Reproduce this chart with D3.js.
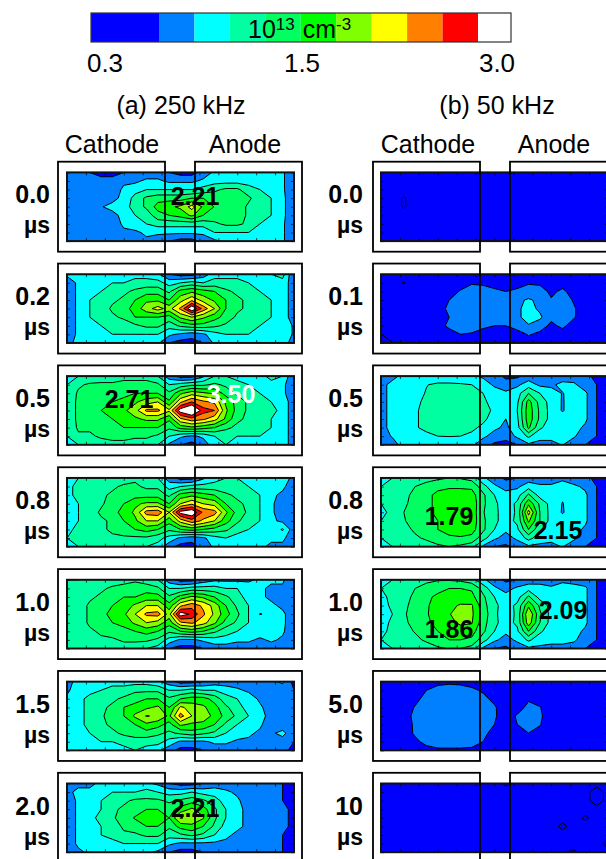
<!DOCTYPE html>
<html>
  <head>
    <meta http-equiv="Content-Type" content="text/html;charset=utf-8"/>
    <script src="https://d3js.org/d3.v7.min.js"></script>
    <style type="text/css">
    html, body { margin: 0; padding: 0; background: #fff; overflow: hidden; }
    text { font-family: "Liberation Sans", Arial, sans-serif; fill: #000; }
    .band { stroke: #000; stroke-width: 1px; stroke-linejoin: round; }
    .tick line { stroke: #000; stroke-width: 0.7px; }
    </style>
  </head>
  <body>
    <script type="text/javascript">
    // density in 10^12 cm^-3, 21 columns x 9 rows
    var a00 = [
      [6,6,5,4,4,5,6,6,6,5,4,4,6,8,8,8,8,8,8,8,5],
      [6,6,6,6,6,7,7,8,8,7,7,7,8,9,9,9,9,9,9,8,5],
      [6,6,6,6,6,8,9,10,10,10,10,10,11,12,13,13,11,10,9,8,5],
      [6,6,6,6,7,8,11,13,14,14,14,15,15,14,14,14,13,11,10,8,6],
      [6,6,6,7.4,8,9,11,13,16,17,18,21,17,14.9,15,14,12,11,10,8,6],
      [6,6,6,6,7,8,10,11,14,15,16,18,15,14,14,14,12,11,10,8,6],
      [6,6,6,6,6,8,9,10,11,11,11,11,11,12,13,13,12,10,9,8,5],
      [6,6,6,6,6,7,7,8,8,8,8,8,8,10,10,10,10,9,9,8,5],
      [6,6,6,6,6,6,7,7,6,5,4,4,6,7,8,8,8,8,8,8,5]
    ];
    var a02 = [
      [8,8,8,9,9,9,9,9,8,5,4,4,6,9,9,9,9,9,10,11,5],
      [6,8,9,9,10,10,11,11,11,9,10,11,10,11,11,11,10,10,9,9,6],
      [6,8,10,10,11,12,13,14,14,12,16,17,16,15,13,12,11,10,9,9,6],
      [6,8,10,11,12,13,15,17,17,15,19,22,19,17,15,13,12,11,10,9,6],
      [6,8,10,11,13,14,16,19,21,19,23,30,24,20,15,13,12,11,10,9,6],
      [6,8,10,11,12,13,15,15,15,14,18,20,18,16,14,12,11,11,10,9,6],
      [6,8,9,10,11,11,12,13,13,11,13,14,14,13,12,11,11,10,10,10,7],
      [6,8,9,9,10,10,10,10,10,8,7,6,7,9,10,10,10,10,10,10,7],
      [7,8,9,9,9,9,9,9,8,5,4,4,5,8,9,9,9,9,9,9,6]
    ];
    var a05 = [
      [10,10,10,11,11,12,12,12,10,6,4,4,7,10,10,9,9,9,11,10,5],
      [10,12,13,13,13,13,13,13,13,10,11,12,12,13,12,11,10,10,9,8,6],
      [10,13,13,13,14,14,15,15,15,13,17,19,18,17,14,12,11,10,10,8,6],
      [11,13,13,14,15,16,17,19,20,15.5,22,25,23,22,17,14,12,11,10,9,6],
      [11,13,14,15,16,17,19,23,23,20.5,29,32,26,25,18,14,12,11,11,9,6],
      [11,13,14,14,15,16,17,18,18,15.5,22,24,23,21,17,13,12,11,10,9,6],
      [10,13,13,14,14,15,15,15,15,13,16,17,16,15,13,12,11,11,10,9,6],
      [10,12,12,13,13,13,13,13,12,10,8,7,8,10,11,10,10,10,10,9,6],
      [10,10,11,11,12,12,11,11,10,7,5,4,6,9,10,10,10,9,9,9,6]
    ];
    var a08 = [
      [9,10,11,11,11,11,12,11,10,6,4,4,7,9,10,10,9,9,9,10,6],
      [9,11,12,12,12,13,13,12,12,9,10,11,11,11,11,11,10,9,9,8,6],
      [9,11,12,12,13,14,14,14,14,12,16,17,16,15,13,12,11,10,8,7,5],
      [9,10,11,12,14,15,17,18,18,15,20,22,20,19,15,13,12,10,8,6,5],
      [9,10,11,13,14,16,18,23.5,24,20,28.5,30,24.5,23.5,18,14,12,10,8,6,5],
      [9,10,11,12,13,15,17,20,20,16,21,24,22,20,16,13,11,10,8,7,5],
      [9,11,12,12,13,14,15,16,15,13,15,16,15,14,13,11,10,9,8.5,10.3,6],
      [10,11,11,11,12,12,12,12,11,9,7,6,7,9,10,9,9,8,8,8,6],
      [10,10,10,11,11,11,11,10,9,6,4,4,6,8,9,9,8,8,7,7,5]
    ];
    var a10 = [
      [10,10,11,11,11,12,12,11,10,6,4,4,6,7,7,7,7,8,8,8,5],
      [11,11,12,12,13,13,14,14,13,10,10,11,11,11,10,10,9,8,7,7,5],
      [11,11,12,13,14,15,15,16,16,13,16,18,17,15,13,11,9,8,7,7,5],
      [11,11,13,14,15,16,18,20,20,16,22,24,22,19,15,12,10,8.5,8,7,5],
      [11,11,13,14,16,17,20,23,23.5,19,29,27,23,19.5,16,13,10,7.4,8,8,6],
      [11,11,13,14,15,16,18,20,19,16,22,23,21,18,14,12,10,9,8,8,6],
      [11,11,12,13,14,14,15,16,15,13,15,16,15,13,11,10,9,9,9,8,5],
      [11,11,12,12,12,13,13,13,12,9,7,7,8,9,9,8,8,7,8,7,5],
      [10,11,11,11,11,11,11,10,9,5,4,4,5,6,6,6,6,6,6,6,5]
    ];
    var a15 = [
      [7,8,8,9,9,9,9,9,8,6,4,4,5,6,6,6,6,6,7,8,4],
      [7,9,9,10,11,11,12,12,12,10,10,11,10,10,9,8,7,6,6,6,5],
      [8,9,11,11,12,13,14,15,15,13,15,16,16,14,11,10,9,7,6,6,5],
      [8,9,11,12,13,15,16,17,18,15,20.5,19,18,16,13,11,9,8,6,6,5],
      [8,9,11,12,14,15,18,20.2,19.5,17,23.5,20,18.5,17,14,12,10,8,7,6,5],
      [8,9,11,12,13,14,15,17,16,14,18,17,17,15,12,10,9,8,5.6,5.5,5],
      [8,9,10,11,12,13,14,14,13,12,13,14,13,12,10,9,8,7,7,8.5,5],
      [8,9,10,10,10,11,11,11,11,9,7,7,7,8,8,7,7,6,6,6,5],
      [8,8,9,9,9,9,10,9,8,6,4,4,5,6,6,6,6,6,6,6,4]
    ];
    var a20 = [
      [7,7,7,8,8,8,8,8,7,5,4,4,5,6,6,6,6,6,6,5,4],
      [7,8,8,9,10,10,10,11,10,9,9,10,9,9,8,7,6,6,6,5,4],
      [6,8,9,10,11,12,13,13,13,12,13,14,13,11,9,8,6,6,6,5,4],
      [6,8,9,10,12,13,14,15,15,14,16,18,16,13,10,8,7,6,6,6,4],
      [6,8,9,11,12,14,15.2,16,16,15,20.3,19,17.8,13,10,8,7,6,6,6,4],
      [6,8,9,10,11,13,14,15,15,13,16,17,15,12,9,8,7,6,6,6,4],
      [6,8,9,10,11,12,12,13,13,11,12,13,12,10,8,7,6,6,6,5,4],
      [6,8,8,9,9,10,10,10,10,8,7,7,7,7,7,6,6,6,6,5,4],
      [7,7,8,8,8,8,8,8,7,5,4,4,5,6,6,6,6,6,6,5,3]
    ];
    var b00 = [
      [3,3,3,3,3,3,3,3,3,3,3,3,3,3,3,3,3,3,3,3,3],
      [3,3,3,3,3,3,3,3,3,3,3,3,3,3,3,3,3,3,3,3,3],
      [3,3,3,3,3,3,3,3,3,3,3,3,3,3,3,3,3,3,3,3,3],
      [3,3,2.4,3,3,3,3,3,3,3,3,3,3,3,3,3,3,3,3,3,3],
      [3,3,2.4,3,3,3,3,3,3,3,3,3,3,3,3,3,3,3,3,3,3],
      [3,3,3,3,3,3,3,3,3,3,3,3,3,3,3,3,3,3,3,3,3],
      [3,3,3,3,3,3,3,3,3,3,3,3,3,3,3,3,3,3,3,3,3],
      [3,3,3,3,3,3,3,3,3,3,3,3,3,3,3,3,3,3,3,3,3],
      [3,3,3,3,3,3,3,3,3,3,3,3,3,3,3,3,3,3,3,3,3]
    ];
    var b01 = [
      [4,4,4,4,4,4,4,4,4,4,4,4,4,4,4,4,4,4,4,4,4],
      [4,4,2.3,4,4,4,4,4,4.8,4.6,4,4,4,4.8,4.6,4,4,4,4,4,4],
      [4,4,4,4,4,4,4,5.2,6,6,5.5,5,5.5,6,6,4.5,5.5,4,4,4,4],
      [4,4,4,4,4,4,5,6,6,6,6,6,7,7.8,7,5.2,6,4.8,4,4,4],
      [4,4,4,4,4,4,5.5,6,6,6,6,6,7,8.5,7,5.5,6,5.2,4,4,4],
      [4,4,4,4,4,4,5,6,6,6,6,6,7,8.5,8,5.5,6,5.2,4,4,4],
      [4,4,4,4,4,4,5.5,6,6,5.5,5,5,6,7.3,6,4.5,5.5,4,4,4,4],
      [2.4,4,4,4,4,4,4,5,4.8,4,4,4,4,5.2,4.5,4,4,4,4,4,4],
      [2,2.4,4,4,4,4,4,4,4,4,4,4,4,4,4,4,4,4,4,4,4]
    ];
    var b05 = [
      [7,7,8,8,8,8,8,8,8,7,6,4.5,4.5,6,6,6,6,6,6,4,4],
      [7,8,9,9,9.9,10.5,10.5,10.3,10,9,7,6,7,8.8,7,7,8.3,8,6,5,4],
      [7,8,9,9,10.2,11,11,11,11,10,9,8,9,12.5,10,8.5,7.4,8.5,8,5,4],
      [7,8,9,9.5,10.5,11,11,11,11,10.5,9,8,9.5,16,11.5,9,7.3,9,8,5,4],
      [7,8,9,9.8,10.5,11,11,11,11,11,9.5,8,10,16.5,12,9,7.3,9,8,5,4],
      [7,8,9,9.8,10.5,11,11,11,11,10.5,9,7.5,9.5,16.5,12,9,8.5,9,8,5,4],
      [7,8,9,9.8,10.5,11,11,11,10.5,9.5,8,7,9,15.5,10.5,8.5,8.5,8.5,7,5,4],
      [7,7.6,9,9,9.5,10,10.1,10,9.5,8,6.5,6,8,10.5,8,8,8.3,7.8,6,5,4],
      [6,7,8,8,8,8,8,8,8,6,4.5,4,5,7,7,7,7.6,6,5,4,4]
    ];
    var b08 = [
      [10,10,10,11,11.5,12,12.5,12.3,11.5,8,6,4.5,5,6,6,6,7,6,6,4,4],
      [10,11,11,12.5,13.5,14.5,14.7,14.7,14.5,11,8,6.5,7,9,8,8,8.5,8,7,5,4],
      [10,11,12,13,14.5,15.5,16,16,16,13,10,8.5,9,13,9,8.6,7.9,8.6,8,5,4],
      [10,11,12,13.5,14.5,15.5,16,16.5,16.5,13,10.5,8.7,10.5,17,12,9,7.4,9,8,5,4],
      [9,11,12.5,13.5,14.5,15.5,16.5,17,16.5,12.7,10.5,9,10.3,21,12.5,9,7.3,9,8,5,4],
      [10,11,12.3,13.5,14.5,15,16.5,17,16.5,13,10.5,9,10.5,18,12.5,9,8.5,8.5,8,5,4],
      [10,11,11.5,13,14,15,16,16.5,16,13,10,8,9.5,15,10.5,8.5,8.5,8.5,7,5,4],
      [10,11,11,12,13,14,14.5,14.7,14.3,11,8,6.5,8,11,8.5,8,8,8,6,5,4],
      [10,10,10,10.5,11,12,12.5,12,11,7,5,4.5,6,7,7,7,7.6,6,5,4,4]
    ];
    var b10 = [
      [10,10,10,11,12,12.3,12.3,12,11,8,6,4.5,5,6,7,6,7,7,6,5,4],
      [10,11,11,12.5,13.3,14.3,15,15,14.7,11.5,8,6.5,8,9,8,8,8.5,8,8,5,4],
      [9,11,11.7,13,14.5,15.5,16,16,15.7,13,10,8.5,9,13,9,8,8.5,8.5,8,5,4],
      [9,10.5,12,13.3,14.7,16,16.8,17.8,17.8,13.5,10.5,9,10.5,17,12,9,9,9,8,5,4],
      [8,10,12.2,13.5,14.8,16,17.3,19,18,14,10.5,8.7,10.5,20,13,9,9,9,8,5,4],
      [9,10.5,12,13.3,14.7,15.5,16.8,18,17.7,13.5,10.5,9,10.5,19,12.5,9,9,9,8,5,4],
      [9,11,11.5,12.7,14,15,16,16.2,16,13,10,8,9.5,15,10.5,8.5,9,8.5,7,5,4],
      [10,11,11,11.8,13,14.5,15,15,14.5,11,8,6.5,8,10.5,8.5,8,8,8,6,5,4],
      [10,10,10,10.5,11,12,12.7,12.5,11.5,7,5,4.5,6,7,7,7,7,6,5,4,4]
    ];
    var b50 = [
      [3.5,3.5,3.5,3.5,4,4.6,4.8,4.7,4.4,4,3.5,3.5,3.5,3.5,3.5,3.5,3.5,3.5,3.5,3.5,3.5],
      [3.5,3.5,3.5,4,5,5.5,5.5,5.5,5.3,4.8,4,3.5,3.5,3.5,3.5,3.5,3.5,3.5,3.5,3.5,3.5],
      [4,4,4,4.6,5.5,6,6,6,5.8,5.4,4.6,4,4,4.8,4.2,4,4,4,4,4,4],
      [4,4,4.3,5.1,5.7,6,6,6,6,5.6,5.2,4,4.2,5.5,5.1,4,4,4,4,4,4],
      [4,4,4.5,5.3,5.8,6,6,6,6,5.8,5.2,4.2,5.2,5.6,5.3,4,4,4,4,4,4],
      [4,4,4.4,5.2,5.7,6,6,6,6,5.6,5,4.2,5,5.5,5.1,4,4,4,4,4,4],
      [4,4,4.3,5.2,5.7,6,6,6,5.8,5.3,4.6,4,4.4,5,4.5,4,4,4,4,4,4],
      [4,4,4,4.7,5.4,5.6,5.6,5.6,5.4,5,4,4,4,4,4,4,4,4,4,4,4],
      [3.5,3.5,3.5,4,4.5,4.8,4.8,4.8,4.8,4.2,3.5,3.5,3.5,3.5,3.5,3.5,3.5,3.5,3.5,3.5,3.5]
    ];
    var b100 = [
      [3,3,3,3,3,3,3,3,3,3,3,2.3,3,3,3,3,3,3,3,3,3],
      [3,3,3,3,3,3,3,3,3,3,3,3,3,3,3,3,3,3,3,1.8,3],
      [3,3,3,3,3,3,3,3,3,3,3,3,3,3,3,3,3,3,3,1.8,3],
      [3,3,3,3,3,3,3,3,3,3,3,3,3,3,3,3,3,3,3,3,3],
      [3,3,3,3,3,3,3,3,3,3,3,3,3,3,3,3,3,3,2.3,3,3],
      [3,3,3,3,3,3,3,3,3,3,3,3,3,3,3,3,2.2,3,3,3,3],
      [3,3,3,3,3,3,3,3,3,3,3,3,3,3,3,3,3,3,3,3,3],
      [3,3,3,3,3,3,3,3,3,3,3,3,3,3,3,3,3,3,3,3,2],
      [3,3,3,3,3,3,3,3,3,3,3,3,3,3,3,3,3,2.3,3,3,3]
    ];

    var thresholds = [2.5, 5, 7.5, 10, 12.5, 15, 17.5, 20, 22.5, 25, 27.5];
    var bandColors = ["#0000ff", "#0080ff", "#00ffff", "#00ffa0", "#00ff60", "#00ff00", "#80ff00", "#ffff00", "#ff8000", "#ff0000", "#ffffff"];
    var rowLabelsA = ["0.0", "0.2", "0.5", "0.8", "1.0", "1.5", "2.0"];
    var rowLabelsB = ["0.0", "0.1", "0.5", "0.8", "1.0", "5.0", "10"];
    var gridsA = [a00, a02, a05, a08, a10, a15, a20];
    var gridsB = [b00, b01, b05, b08, b10, b50, b100];
    var barLabels = ["0.3", "1.5", "3.0"];

    var width = 606, height = 859;
    var plotW = 227, plotH = 68.7, rowStep = 101.85, firstRow = 172.4;
    var nx = 21, ny = 9;

    var svg = d3.select("body").append("svg")
        .attr("width", width)
        .attr("height", height)
        .style("display", "block");

    svg.append("defs").append("clipPath")
        .attr("id", "plot-clip")
      .append("rect")
        .attr("width", plotW)
        .attr("height", plotH);

    // nudged a hair so values sitting exactly on a level do not leave spikes
    var contours = d3.contours().size([nx, ny])
      .thresholds(thresholds.map(function(t) { return t + 0.01; }));

    // contour grid values sit at cell centres, hence the half cell in the domains
    var xGrid = d3.scaleLinear().domain([0.5, nx - 0.5]).range([0, plotW]);
    var yGrid = d3.scaleLinear().domain([0.5, ny - 0.5]).range([0, plotH]);
    var path = d3.geoPath(d3.geoTransform({
      point: function(x, y) { this.stream.point(xGrid(x), yGrid(y)); }
    }));

    var xTick = d3.scaleLinear().domain([0, 12]).range([0, plotW]);
    var yTick = d3.scaleLinear().domain([0, 8]).range([0, plotH]);

    function renderPanel(grid, x, y) {
      var g = svg.append("g").attr("transform", "translate(" + x + "," + y + ")");
      var inner = g.append("g").attr("clip-path", "url(#plot-clip)");
      inner.append("rect")
        .attr("width", plotW)
        .attr("height", plotH)
        .attr("fill", bandColors[0]);
      inner.selectAll("path.band")
        .data(contours(grid.flat()))
        .enter().append("path")
          .attr("class", "band")
          .attr("d", path)
          .attr("fill", function(d, i) { return bandColors[i]; });

      // inward tick marks on all four sides
      var top = d3.axisTop(xTick).ticks(12).tickSize(-3).tickFormat("");
      var bottom = d3.axisBottom(xTick).ticks(12).tickSize(-3).tickFormat("");
      var left = d3.axisLeft(yTick).ticks(8).tickSize(-3).tickFormat("");
      var right = d3.axisRight(yTick).ticks(8).tickSize(-3).tickFormat("");
      g.append("g").call(top);
      g.append("g").attr("transform", "translate(0," + plotH + ")").call(bottom);
      g.append("g").call(left);
      g.append("g").attr("transform", "translate(" + plotW + ",0)").call(right);
      g.selectAll(".domain").remove();

      g.append("rect")
        .attr("width", plotW)
        .attr("height", plotH)
        .attr("fill", "none")
        .attr("stroke", "#111")
        .attr("stroke-width", 2);
    }

    function renderBox(x, y, w) {
      svg.append("rect")
        .attr("x", x).attr("y", y)
        .attr("width", w).attr("height", 90)
        .attr("fill", "none")
        .attr("stroke", "#000")
        .attr("stroke-width", 1.8);
    }

    function label(str, x, y, size, anchor, weight, color) {
      return svg.append("text")
        .attr("x", x).attr("y", y)
        .attr("font-size", size)
        .attr("text-anchor", anchor || "middle")
        .attr("font-weight", weight || "normal")
        .style("fill", color || "#000")
        .text(str);
    }

    function renderColumn(grids, rowLabels, plotX, boxX1, boxX2, labelX) {
      grids.forEach(function(grid, i) {
        var y = firstRow + i * rowStep;
        renderPanel(grid, plotX, y);
        renderBox(boxX1, y - 10.7, 107);
        renderBox(boxX2, y - 10.7, 107);
        label(rowLabels[i], labelX, y + 31, 25, "end", "bold");
        label("\u00b5s", labelX, y + 61, 23, "end", "bold");
      });
    }

    function renderColorBar() {
      var xBar = d3.scaleLinear().domain([5, 27.5]).range([159, 478]);
      var edges = [91].concat(thresholds.slice(1).map(function(t) { return xBar(t); }), [511]);
      svg.selectAll("rect.swatch")
        .data(d3.range(edges.length - 1))
        .enter().append("rect")
          .attr("class", "swatch")
          .attr("x", function(d) { return edges[d]; })
          .attr("y", 13)
          .attr("width", function(d) { return edges[d + 1] - edges[d]; })
          .attr("height", 29)
          .attr("fill", function(d) { return bandColors[d]; });
      svg.append("rect")
        .attr("x", 91).attr("y", 13)
        .attr("width", 420).attr("height", 29)
        .attr("fill", "none")
        .attr("stroke", "#333")
        .attr("stroke-width", 1.2);

      var unit = label("10", 248, 38, 25, "start");
      unit.append("tspan").attr("font-size", 17).attr("dy", -8).text("13");
      unit.append("tspan").attr("font-size", 25).attr("dy", 8).attr("dx", 8).text("cm");
      unit.append("tspan").attr("font-size", 17).attr("dy", -8).text("-3");

      label(barLabels[0], 105, 72, 26);
      label(barLabels[1], 302, 72, 26);
      label(barLabels[2], 497, 72, 26);
    }

    renderColorBar();
    renderColumn(gridsA, rowLabelsA, 67, 58, 195, 50);
    renderColumn(gridsB, rowLabelsB, 381, 373, 510, 363);

    label("(a) 250 kHz", 181, 114, 25);
    label("(b) 50 kHz", 497, 114, 25);
    label("Cathode", 112, 153, 25);
    label("Anode", 245, 153, 25);
    label("Cathode", 428, 153, 25);
    label("Anode", 554, 153, 25);

    // peak values written over the plots
    label("2.21", 195, 205, 25, "middle", "bold");
    label("2.71", 129, 408, 25, "middle", "bold");
    label("3.50", 231, 403, 25, "middle", "bold", "#fff");
    label("2.21", 195, 817, 25, "middle", "bold");
    label("1.79", 449, 525, 25, "middle", "bold");
    label("2.15", 558, 539, 25, "middle", "bold");
    label("1.86", 449, 638, 25, "middle", "bold");
    label("2.09", 563, 619, 25, "middle", "bold");
    </script>
  </body>
</html>
